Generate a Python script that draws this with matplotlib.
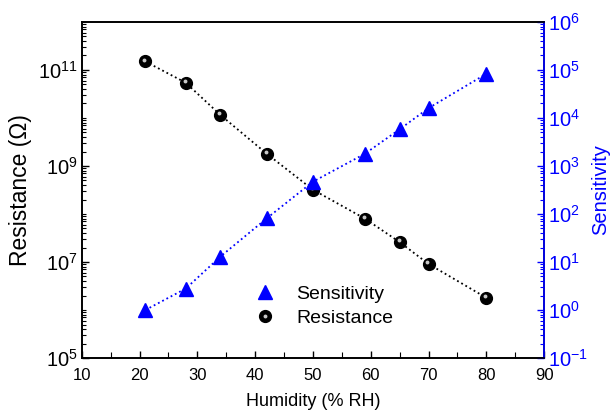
import numpy as np
import matplotlib
matplotlib.use('Agg')
import matplotlib.pyplot as plt
from matplotlib import transforms
from matplotlib.ticker import LogLocator, NullFormatter, MultipleLocator, FixedLocator
from matplotlib.legend_handler import HandlerTuple

plt.rcParams['font.family'] = ['Liberation Sans', 'DejaVu Sans']
plt.rcParams['mathtext.default'] = 'regular'

# data
humidity = [21, 28, 34, 42, 50, 59, 65, 70, 80]
resistance = [1.5e11, 5.4e10, 1.15e10, 1.8e9, 3.2e8, 8.0e7, 2.6e7, 9.1e6, 1.8e6]
sensitivity = [1.0, 2.8, 13, 81, 470, 1800, 5800, 16000, 83000]

blue = '#0000ff'

fig = plt.figure(figsize=(6.1, 4.13), dpi=100)
ax = fig.add_axes([0.134, 0.133, 0.758, 0.814])
ax2 = ax.twinx()

# resistance: black "spheres" on dotted line
ax.plot(humidity, resistance, ':', color='black', lw=1.3, zorder=2)
ball, = ax.plot(humidity, resistance, 'o', ls='none', color='black', ms=8.5, zorder=3)
shift = transforms.offset_copy(ax.transData, fig=fig, x=-0.8, y=1.4, units='points')
shine, = ax.plot(humidity, resistance, 'o', ls='none', color='#c8c8c8', ms=2.8,
                 mec='none', transform=shift, zorder=4)
ax.set_yscale('log')
ax.set_ylim(1e5, 1e12)
ax.set_xlim(10, 90)
ax.yaxis.set_major_locator(FixedLocator([1e5, 1e7, 1e9, 1e11]))
ax.yaxis.set_minor_locator(LogLocator(base=10, subs=np.arange(1, 10), numticks=50))
ax.yaxis.set_minor_formatter(NullFormatter())
ax.xaxis.set_major_locator(MultipleLocator(10))
ax.xaxis.set_minor_locator(MultipleLocator(5))
ax.tick_params(which='both', direction='in', top=False, right=False)
ax.tick_params(axis='y', labelsize=14.5, pad=3)
ax.tick_params(axis='x', labelsize=12, pad=7)
ax.tick_params(which='major', length=5, width=1)
ax.tick_params(which='minor', length=3, width=0.8)
ax.tick_params(axis='x', which='minor', length=4)
ax.set_xlabel('Humidity (% RH)', fontsize=13, labelpad=7)
ax.set_ylabel('Resistance (\u03a9)', fontsize=16.5, labelpad=4)

# sensitivity on the right axis
ax2.plot(humidity, sensitivity, ':', color=blue, lw=1.3, zorder=2)
tri, = ax2.plot(humidity, sensitivity, '^', ls='none', color=blue, ms=10, zorder=3)
ax2.set_yscale('log')
ax2.set_ylim(1e-1, 1e6)
ax2.yaxis.set_major_locator(LogLocator(base=10))
ax2.yaxis.set_minor_locator(LogLocator(base=10, subs=np.arange(2, 10), numticks=50))
ax2.yaxis.set_minor_formatter(NullFormatter())
ax2.tick_params(which='both', direction='in', colors=blue, labelsize=14.5, pad=3)
ax2.tick_params(which='major', length=5, width=1)
ax2.tick_params(which='minor', length=3, width=0.8)
ax2.set_ylabel('Sensitivity', fontsize=14.5, color=blue, labelpad=2)

for a in (ax, ax2):
    for s in a.spines.values():
        s.set_linewidth(1.2)
ax2.spines['right'].set_color(blue)
ax2.spines['left'].set_color('black')

ax2.legend([tri, (ball, shine)], ['Sensitivity', 'Resistance'],
           handler_map={tuple: HandlerTuple(ndivide=1)},
           loc='upper left', bbox_to_anchor=(0.334, 0.268), frameon=False,
           fontsize=14, handlelength=1.2, handletextpad=1.0, labelspacing=0.3)

fig.savefig('out.png', dpi=100)
